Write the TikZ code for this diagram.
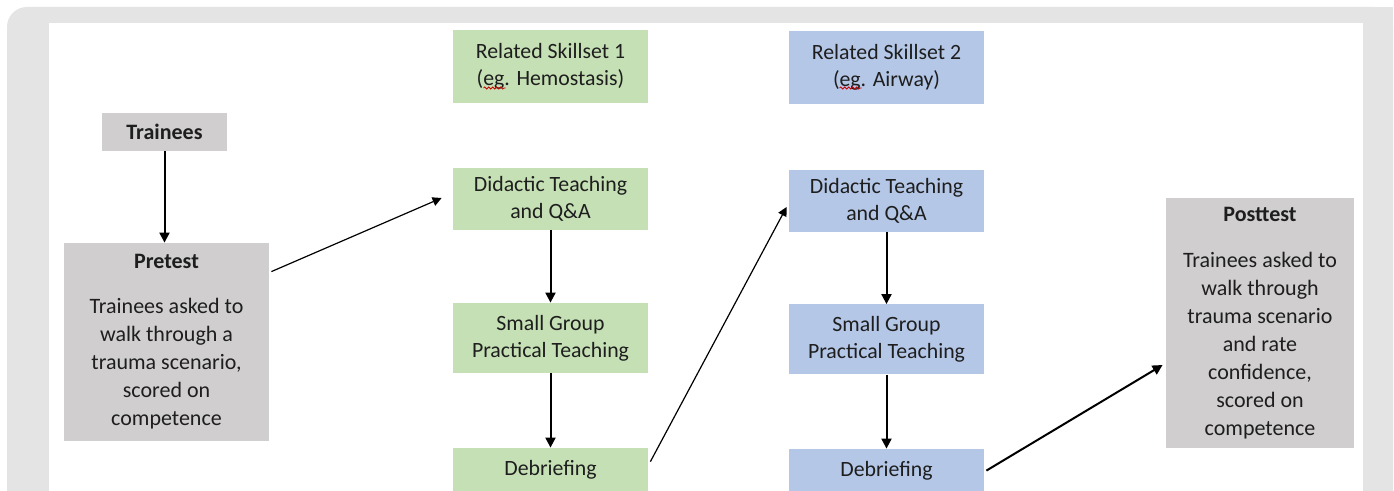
\documentclass[tikz,border=0pt]{standalone}
\usepackage{fontspec}
\setmainfont{Carlito}
\usetikzlibrary{arrows.meta,calc,decorations.pathmorphing}
\definecolor{framegray}{HTML}{E4E4E4}
\definecolor{boxgray}{HTML}{D0CECE}
\definecolor{boxgreen}{HTML}{C5E0B4}
\definecolor{boxblue}{HTML}{B4C7E7}
\definecolor{txt}{HTML}{1E1E1E}
\begin{document}
\begin{tikzpicture}[x=0.5pt,y=-0.5pt,
  graybox/.style={fill=boxgray, draw=none, align=center, text=txt, inner sep=0pt,
    font=\fontsize{11}{14}\selectfont},
  greenbox/.style={fill=boxgreen, draw=none, minimum width=97.5pt, align=center, text=txt,
    inner sep=0pt, font=\fontsize{10.9}{13.5}\selectfont},
  bluebox/.style={greenbox, fill=boxblue},
  thickarr/.style={-{Triangle[length=5pt,width=5pt]}, line width=1pt, black},
  thinarr/.style={-{Triangle[length=4.5pt,width=4.5pt]}, line width=0.6pt, black},
  squig/.style={red!80!black, line width=0.4pt, decorate,
    decoration={snake, amplitude=0.5pt, segment length=2pt}}
]
\useasboundingbox (0,0) rectangle (1394,491);
\fill[white] (0,0) rectangle (1394,491);
\fill[framegray, rounded corners=10pt] (7,7) rectangle (1393,530);
\fill[framegray] (1360,7) rectangle (1393,40);
\fill[white] (49,23) rectangle (1363,491);

% gray nodes
\node[graybox, minimum width=62.5pt, minimum height=19pt,
  font=\fontsize{11}{14}\selectfont\bfseries] (trainees) at (164.5,132) {Trainees};
\node[graybox, minimum width=102.5pt, minimum height=99pt] (pretest) at (166.5,342)
  {\textbf{Pretest}\\[8.5pt] Trainees asked to\\ walk through a\\ trauma scenario,\\ scored on\\ competence};
\node[graybox, minimum width=94pt, minimum height=125pt] (posttest) at (1260,323)
  {\textbf{Posttest}\\[9pt] Trainees asked to\\ walk through\\ trauma scenario\\ and rate\\ confidence,\\ scored on\\ competence};

% green column
\node[greenbox, minimum height=36.5pt] (rel1) at (550.5,66.5) {Related Skillset 1\\ (eg. Hemostasis)};
\node[greenbox, minimum height=31pt] (did1) at (550.5,199) {Didactic Teaching\\ and Q\&A};
\node[greenbox, minimum height=35pt] (sg1) at (550.5,338) {Small Group\\ Practical Teaching};
\node[greenbox, minimum height=22pt] (deb1) at (550.5,470) {Debriefing};

% blue column
\node[bluebox, minimum height=36.5pt] (rel2) at (886.5,67.5) {Related Skillset 2\\ (eg. Airway)};
\node[bluebox, minimum height=31pt] (did2) at (886.5,201) {Didactic Teaching\\ and Q\&A};
\node[bluebox, minimum height=35pt] (sg2) at (886.5,339.5) {Small Group\\ Practical Teaching};
\node[bluebox, minimum height=22pt] (deb2) at (886.5,471) {Debriefing};

% spell-check squiggles
\draw[squig] ($(rel1.center)+(-67,21.5)$) -- ($(rel1.center)+(-45,21.5)$);
\draw[squig] ($(rel2.center)+(-47,20.5)$) -- ($(rel2.center)+(-25,20.5)$);

% connectors
\draw[thickarr] (trainees.south) -- (trainees.south |- pretest.north);
\draw[thickarr] (did1.south) -- (sg1.north);
\draw[thickarr] (sg1.south) -- (deb1.north);
\draw[thickarr] (did2.south) -- (sg2.north);
\draw[thickarr] (sg2.south) -- (deb2.north);
\draw[thinarr] ($(pretest.north east)+(2,29)$) -- ($(did1.west)+(-11,-1)$);
\draw[thinarr] ($(deb1.north east)+(2,14)$) -- ($(did2.west)+(-2,6)$);
\draw[thickarr] ($(deb2.north east)+(2,22)$) -- ($(posttest.west)+(-3,42)$);
\end{tikzpicture}
\end{document}
